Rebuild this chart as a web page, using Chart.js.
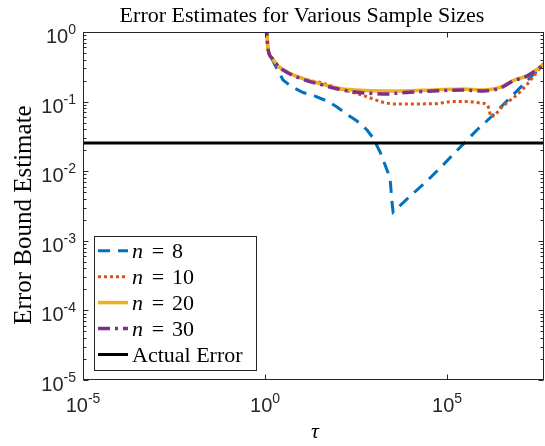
<!DOCTYPE html>
<html>
<head>
<meta charset="utf-8">
<script src="https://cdn.jsdelivr.net/npm/chart.js@4.4.1/dist/chart.umd.min.js"></script>
<style>
  html, body { margin: 0; padding: 0; background: #fff; }
  #wrap { width: 545px; height: 446px; }
</style>
</head>
<body>
<div id="wrap"><canvas id="c" width="545" height="446"></canvas></div>
<script>
// values (tau, error bound estimate)
const tau8 = [1, 1.13, 1.19, 1.37, 1.88, 3.12, 5.52, 11.1, 23.6, 50.5, 95, 191, 337, 634, 932, 1445, 2240, 2710, 3090, 3300, 8500, 28200, 77600, 661000, 1.51e6, 4.6e7];
const est8 = [3, 0.97, 0.6, 0.467, 0.336, 0.204, 0.162, 0.135, 0.120, 0.102, 0.0836, 0.0641, 0.0526, 0.0391, 0.0300, 0.0189, 0.0104, 0.00798, 0.00349, 0.00259, 0.00412, 0.00723, 0.0123, 0.0391, 0.0581, 0.35];

const tau10 = [1, 1.13, 1.19, 1.55, 2.28, 4.3, 12.6, 37, 100, 295, 558, 1640, 3730, 41700, 146000, 355000, 813000, 1.26e6, 1.45e6, 1.58e6, 3.47e6, 1.15e7, 4.6e7];
const est10 = [3, 0.97, 0.6, 0.423, 0.33, 0.262, 0.21, 0.185, 0.157, 0.133, 0.120, 0.0986, 0.0925, 0.093, 0.1, 0.1, 0.0955, 0.0893, 0.075, 0.0603, 0.0865, 0.147, 0.36];

const tau20 = [1, 1.13, 1.19, 1.55, 2.28, 4.3, 12.6, 37, 100, 295, 2400, 5100, 41700, 275000, 977000, 2.88e6, 6.46e6, 1.58e7, 4.6e7];
const est20 = [3, 0.97, 0.6, 0.423, 0.326, 0.262, 0.208, 0.178, 0.156, 0.147, 0.142, 0.142, 0.147, 0.152, 0.147, 0.16, 0.2, 0.235, 0.34];

const tau30 = [1, 1.13, 1.19, 1.55, 2.28, 4.3, 12.6, 37, 100, 295, 2400, 5100, 41700, 275000, 977000, 2.88e6, 6.46e6, 1.58e7, 4.6e7];
const est30 = [3, 0.97, 0.6, 0.423, 0.324, 0.258, 0.204, 0.174, 0.152, 0.137, 0.129, 0.133, 0.142, 0.147, 0.142, 0.157, 0.198, 0.233, 0.34];

const actualError = 0.0254;
const xRange = [1e-5, 4.6e7];
const yRange = [1e-5, 1];
const xTickExp = [-5, 0, 5];
const yTickExp = [-5, -4, -3, -2, -1, 0];

const seriesNames = ['n = 8', 'n = 10', 'n = 20', 'n = 30', 'Actual Error'];

const pts = (xs, ys) => xs.map((x, i) => ({ x: x, y: ys[i] }));

const axisCol = '#262626';
const serif = '"Liberation Serif", "Times New Roman", serif';
const sans = '"Liberation Sans", Arial, sans-serif';

// MATLAB-ish axes: box, inward ticks, 10^k labels, title, labels, legend
const matlabAxes = {
    id: 'matlabAxes',
    afterDraw(chart) {
        const ctx = chart.ctx;
        const a = chart.chartArea;
        const xs = chart.scales.x, ys = chart.scales.y;
        const L = Math.round(a.left) + 0.5, R = Math.round(a.right) - 0.5;
        const T = Math.round(a.top) + 0.5, B = Math.round(a.bottom) - 0.5;
        ctx.save();
        ctx.strokeStyle = axisCol;
        ctx.lineWidth = 1;
        ctx.strokeRect(L, T, R - L, B - T);

        ctx.beginPath();
        // y ticks, major and minor, both sides
        yTickExp.forEach(e => {
            const py = Math.round(ys.getPixelForValue(Math.pow(10, e))) + 0.5;
            ctx.moveTo(L, py); ctx.lineTo(L + 5, py);
            ctx.moveTo(R, py); ctx.lineTo(R - 5, py);
            if (e < 0) {
                for (let k = 2; k <= 9; k++) {
                    const my = Math.round(ys.getPixelForValue(k * Math.pow(10, e))) + 0.5;
                    ctx.moveTo(L, my); ctx.lineTo(L + 3, my);
                    ctx.moveTo(R, my); ctx.lineTo(R - 3, my);
                }
            }
        });
        // x ticks, bottom and top
        xTickExp.forEach(e => {
            const px = Math.round(xs.getPixelForValue(Math.pow(10, e))) + 0.5;
            ctx.moveTo(px, B); ctx.lineTo(px, B - 5);
            ctx.moveTo(px, T); ctx.lineTo(px, T + 5);
        });
        ctx.stroke();

        // tick labels 10^k
        ctx.fillStyle = axisCol;
        ctx.textBaseline = 'alphabetic';
        const pow = (exp, x, y, align) => {
            ctx.font = '20px ' + sans;
            const bw = ctx.measureText('10').width;
            ctx.font = '14px ' + sans;
            const s = String(exp);
            const ew = ctx.measureText(s).width;
            const x0 = align === 'right' ? x - bw - ew : x - (bw + ew) / 2;
            ctx.textAlign = 'left';
            ctx.font = '20px ' + sans;
            ctx.fillText('10', x0, y);
            ctx.font = '14px ' + sans;
            ctx.fillText(s, x0 + bw, y - 9);
        };
        yTickExp.forEach(e => pow(e, 76, ys.getPixelForValue(Math.pow(10, e)) + 11, 'right'));
        xTickExp.forEach(e => pow(e, xs.getPixelForValue(Math.pow(10, e)), 412, 'center'));

        // title and axis labels
        ctx.fillStyle = '#000';
        ctx.textAlign = 'center';
        ctx.font = '22px ' + serif;
        ctx.fillText('Error Estimates for Various Sample Sizes', 302, 22);
        ctx.font = 'italic 22px ' + serif;
        ctx.fillText('\u03c4', 315, 438);
        ctx.save();
        ctx.translate(31, 215);
        ctx.rotate(-Math.PI / 2);
        ctx.font = '25px ' + serif;
        ctx.fillText('Error Bound Estimate', 0, 0);
        ctx.restore();

        // legend
        const lx = 94.5, ly = 236.5, lw = 162, lh = 134;
        ctx.fillStyle = '#fff';
        ctx.fillRect(lx, ly, lw, lh);
        ctx.strokeStyle = axisCol;
        ctx.lineWidth = 1;
        ctx.strokeRect(lx, ly, lw, lh);
        chart.data.datasets.forEach((ds, i) => {
            const ry = 250.7 + i * 25.95;
            ctx.save();
            ctx.strokeStyle = ds.borderColor;
            ctx.lineWidth = ds.borderWidth;
            ctx.setLineDash(ds.borderDash || []);
            ctx.beginPath();
            ctx.moveTo(98, ry); ctx.lineTo(128, ry);
            ctx.stroke();
            ctx.restore();
            ctx.fillStyle = '#000';
            ctx.textAlign = 'left';
            const base = ry + 7;
            const name = seriesNames[i];
            if (name.startsWith('n = ')) {
                ctx.font = 'italic 22px ' + serif;
                ctx.fillText('n', 132, base);
                ctx.font = '22px ' + serif;
                ctx.textAlign = 'center';
                ctx.fillText('=', 158, base);
                ctx.textAlign = 'left';
                ctx.fillText(name.slice(4), 172, base);
            } else {
                ctx.font = '22px ' + serif;
                ctx.fillText(name, 132, base);
            }
        });
        ctx.restore();
    }
};

new Chart(document.getElementById('c'), {
    type: 'line',
    data: {
        datasets: [
            { label: seriesNames[0], data: pts(tau8, est8), borderColor: '#0072BD', borderWidth: 3, borderDash: [12, 8], order: 5, cubicInterpolationMode: 'default', tension: 0 },
            { label: seriesNames[1], data: pts(tau10, est10), borderColor: '#D95319', borderWidth: 3, borderDash: [3, 3], order: 4 },
            { label: seriesNames[2], data: pts(tau20, est20), borderColor: '#EDB120', borderWidth: 3.5, order: 3 },
            { label: seriesNames[3], data: pts(tau30, est30), borderColor: '#7E2F8E', borderWidth: 3.5, borderDash: [12, 5, 3, 5], order: 2 },
            { label: seriesNames[4], data: pts(xRange, [actualError, actualError]), borderColor: '#000000', borderWidth: 3, order: 1 }
        ]
    },
    options: {
        responsive: false,
        animation: false,
        layout: { padding: { top: 32, right: 1, left: 0, bottom: 0 } },
        elements: {
            point: { radius: 0 },
            line: { cubicInterpolationMode: 'monotone', fill: false, borderCapStyle: 'butt' }
        },
        plugins: {
            legend: { display: false },
            title: { display: false },
            tooltip: { enabled: false }
        },
        scales: {
            x: {
                type: 'logarithmic', min: xRange[0], max: xRange[1],
                grid: { display: false }, border: { display: false },
                ticks: { display: false },
                afterFit: s => { s.height = 66; }
            },
            y: {
                type: 'logarithmic', min: yRange[0], max: yRange[1],
                grid: { display: false }, border: { display: false },
                ticks: { display: false },
                afterFit: s => { s.width = 83; }
            }
        }
    },
    plugins: [matlabAxes]
});
</script>
</body>
</html>
